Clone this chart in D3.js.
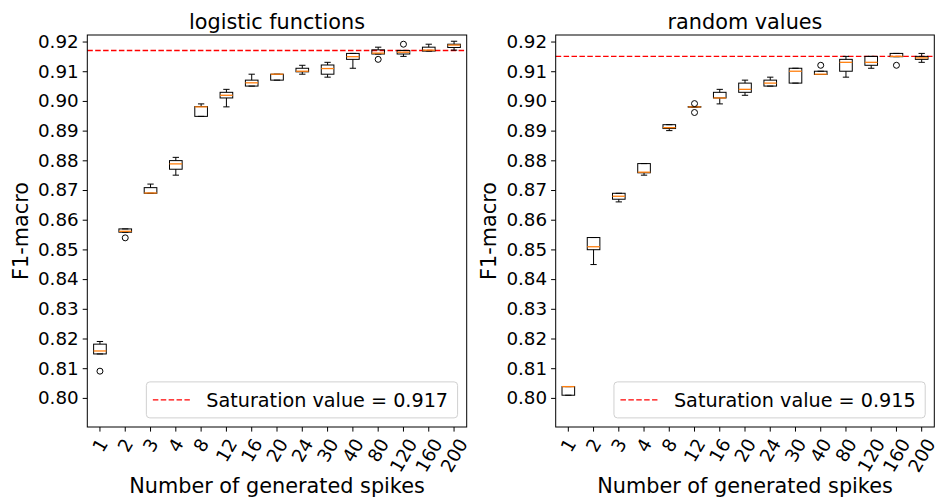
<!DOCTYPE html>
<html><head><meta charset="utf-8">
<script src="https://cdn.jsdelivr.net/npm/d3@7/dist/d3.min.js"></script>
<style>body{margin:0;background:#fff}svg{display:block;font-family:"DejaVu Sans",sans-serif}</style>
</head><body><svg id="c" width="935" height="503"></svg>
<script>
const categories = ["1","2","3","4","8","12","16","20","24","30","40","80","120","160","200"];
const yTicks = [0.80,0.81,0.82,0.83,0.84,0.85,0.86,0.87,0.88,0.89,0.90,0.91,0.92];

// logistic functions
const logWhiskerLow  = [0.8148,0.8558,0.8689,0.8750,0.8948,0.8980,0.9050,0.9070,0.9090,0.9080,0.9110,0.9158,0.9150,0.9168,0.9171];
const logQ1          = [0.8148,0.8558,0.8689,0.8770,0.8948,0.9010,0.9050,0.9070,0.9098,0.9090,0.9140,0.9158,0.9158,0.9168,0.9180];
const logMedian      = [0.8158,0.8561,0.8690,0.8788,0.8980,0.9019,0.9061,0.9090,0.9100,0.9109,0.9149,0.9161,0.9164,0.9171,0.9188];
const logQ3          = [0.8181,0.8569,0.8708,0.8799,0.8981,0.9029,0.9070,0.9090,0.9110,0.9121,0.9160,0.9172,0.9170,0.9181,0.9191];
const logWhiskerHigh = [0.8190,0.8569,0.8720,0.8810,0.8990,0.9039,0.9090,0.9090,0.9120,0.9130,0.9160,0.9181,0.9170,0.9191,0.9201];
const logOutliers    = [[0.8090],[0.8539],[],[],[],[],[],[],[],[],[],[0.9140],[0.9191],[],[]];
const logSaturation = 0.917;

// random values
const rndWhiskerLow  = [0.8009,0.8449,0.8660,0.8750,0.8900,0.8979,0.8990,0.9019,0.9050,0.9060,0.9089,0.9080,0.9110,0.9149,0.9130];
const rndQ1          = [0.8009,0.8499,0.8669,0.8758,0.8907,0.8979,0.9010,0.9029,0.9050,0.9060,0.9089,0.9100,0.9120,0.9149,0.9140];
const rndMedian      = [0.8038,0.8509,0.8679,0.8760,0.8910,0.8980,0.9010,0.9039,0.9060,0.9100,0.9090,0.9130,0.9130,0.9150,0.9145];
const rndQ3          = [0.8038,0.8540,0.8689,0.8789,0.8920,0.8981,0.9029,0.9060,0.9070,0.9110,0.9100,0.9140,0.9150,0.9160,0.9150];
const rndWhiskerHigh = [0.8038,0.8540,0.8689,0.8789,0.8920,0.8981,0.9039,0.9070,0.9080,0.9110,0.9100,0.9150,0.9150,0.9160,0.9160];
const rndOutliers    = [[],[],[],[],[],[0.8991,0.8961],[],[],[],[],[0.9120],[],[],[0.9120],[]];
const rndSaturation = 0.915;

const panels = [
  {title:"logistic functions", left:87.3, right:466.7, wl:logWhiskerLow, q1:logQ1, med:logMedian, q3:logQ3, wh:logWhiskerHigh, out:logOutliers, sat:logSaturation},
  {title:"random values", left:555.7, right:934.3, wl:rndWhiskerLow, q1:rndQ1, med:rndMedian, q3:rndQ3, wh:rndWhiskerHigh, out:rndOutliers, sat:rndSaturation}
];
const plotTop = 35, plotBottom = 427;
const tickFs = 18.3, labelFs = 20.8, legendFs = 19.2;
const svg = d3.select("#c");

panels.forEach(p => {
  const g = svg.append("g");
  const x = d3.scaleBand().domain(categories).range([p.left, p.right]).paddingInner(0).paddingOuter(0);
  const y = d3.scaleLinear().domain([0.7902, 0.9222]).range([plotBottom, plotTop]);
  const cx = c => x(c) + x.bandwidth()/2;
  const bw = x.bandwidth()*0.5, cw = x.bandwidth()*0.25;

  // saturation line
  g.append("line").attr("x1", p.left).attr("x2", p.right).attr("y1", y(p.sat)).attr("y2", y(p.sat))
    .attr("stroke", "#ff0000").attr("stroke-width", 1.4).attr("stroke-dasharray", "5.5,2.4");

  categories.forEach((c, i) => {
    const X = cx(c);
    const bx = g.append("g").attr("fill","none").attr("stroke","#000").attr("stroke-width",1);
    if (p.wh[i] > p.q3[i]) bx.append("line").attr("x1",X).attr("x2",X).attr("y1",y(p.q3[i])).attr("y2",y(p.wh[i]));
    if (p.wl[i] < p.q1[i]) bx.append("line").attr("x1",X).attr("x2",X).attr("y1",y(p.q1[i])).attr("y2",y(p.wl[i]));
    bx.append("line").attr("x1",X-cw/2).attr("x2",X+cw/2).attr("y1",y(p.wh[i])).attr("y2",y(p.wh[i]));
    bx.append("line").attr("x1",X-cw/2).attr("x2",X+cw/2).attr("y1",y(p.wl[i])).attr("y2",y(p.wl[i]));
    bx.append("rect").attr("x",X-bw/2).attr("width",bw).attr("y",y(p.q3[i])).attr("height",Math.max(0.01,y(p.q1[i])-y(p.q3[i])));
    g.append("line").attr("x1",X-bw/2).attr("x2",X+bw/2).attr("y1",y(p.med[i])).attr("y2",y(p.med[i]))
      .attr("stroke","#ff7f0e").attr("stroke-width",1.3);
    p.out[i].forEach(v => {
      g.append("circle").attr("cx",X).attr("cy",y(v)).attr("r",3).attr("fill","none").attr("stroke","#000").attr("stroke-width",1);
    });
  });

  // y axis
  const ya = g.append("g").attr("transform",`translate(${p.left},0)`)
    .call(d3.axisLeft(y).tickValues(yTicks).tickFormat(d3.format(".2f")).tickSizeInner(4.6).tickSizeOuter(0).tickPadding(4));
  ya.select(".domain").remove();
  ya.selectAll("text").attr("font-size",tickFs).attr("font-family","DejaVu Sans").attr("fill","#000");
  ya.selectAll("line").attr("stroke","#000");

  // x axis
  const xa = g.append("g").attr("transform",`translate(0,${plotBottom})`)
    .call(d3.axisBottom(x).tickSizeInner(4.6).tickSizeOuter(0).tickFormat(""));
  xa.select(".domain").remove();
  xa.selectAll("line").attr("stroke","#000");
  categories.forEach(c => {
    const t = g.append("text").text(c).attr("font-size",tickFs).attr("text-anchor","middle").attr("dominant-baseline","central");
    const w = t.node().getComputedTextLength();
    const h = tickFs*1.0;
    const halfH = (w*Math.sin(Math.PI/3) + h*Math.cos(Math.PI/3))/2;
    t.attr("transform",`translate(${cx(c)},${plotBottom+4.6+4+halfH}) rotate(-60)`);
  });

  // frame
  g.append("rect").attr("x",p.left).attr("y",plotTop).attr("width",p.right-p.left).attr("height",plotBottom-plotTop)
    .attr("fill","none").attr("stroke","#000").attr("stroke-width",1);

  // titles & labels
  const mid = (p.left+p.right)/2;
  g.append("text").text(p.title).attr("x",mid).attr("y",29).attr("text-anchor","middle").attr("font-size",labelFs);
  g.append("text").text("Number of generated spikes").attr("x",mid).attr("y",493).attr("text-anchor","middle").attr("font-size",labelFs);
  g.append("text").text("F1-macro").attr("transform",`translate(${p.left-59.5},${(plotTop+plotBottom)/2}) rotate(-90)`)
    .attr("text-anchor","middle").attr("font-size",labelFs);

  // legend
  const lg = g.append("g");
  const lt = lg.append("text").text(`Saturation value = ${p.sat.toFixed(3)}`).attr("font-size",legendFs);
  const tw = lt.node().getComputedTextLength();
  const padL = 6.5, hl = 37, tp = 16.5, padR = 9.5;
  const lw = padL + hl + tp + tw + padR;
  const lR = p.right - 9.1, lB = plotBottom - 9.1, lH = 36;
  const lL = lR - lw, lT = lB - lH;
  lg.insert("rect","text").attr("x",lL).attr("y",lT).attr("width",lw).attr("height",lH).attr("rx",3.5)
    .attr("fill","#fff").attr("fill-opacity",0.8).attr("stroke","#d0d0d0").attr("stroke-width",1);
  lg.append("line").attr("x1",lL+padL).attr("x2",lL+padL+hl).attr("y1",lT+lH/2).attr("y2",lT+lH/2)
    .attr("stroke","#ff0000").attr("stroke-width",1.4).attr("stroke-dasharray","5.5,2.4");
  lt.attr("x",lL+padL+hl+tp).attr("y",lT+lH/2+7);
});
</script></body></html>
